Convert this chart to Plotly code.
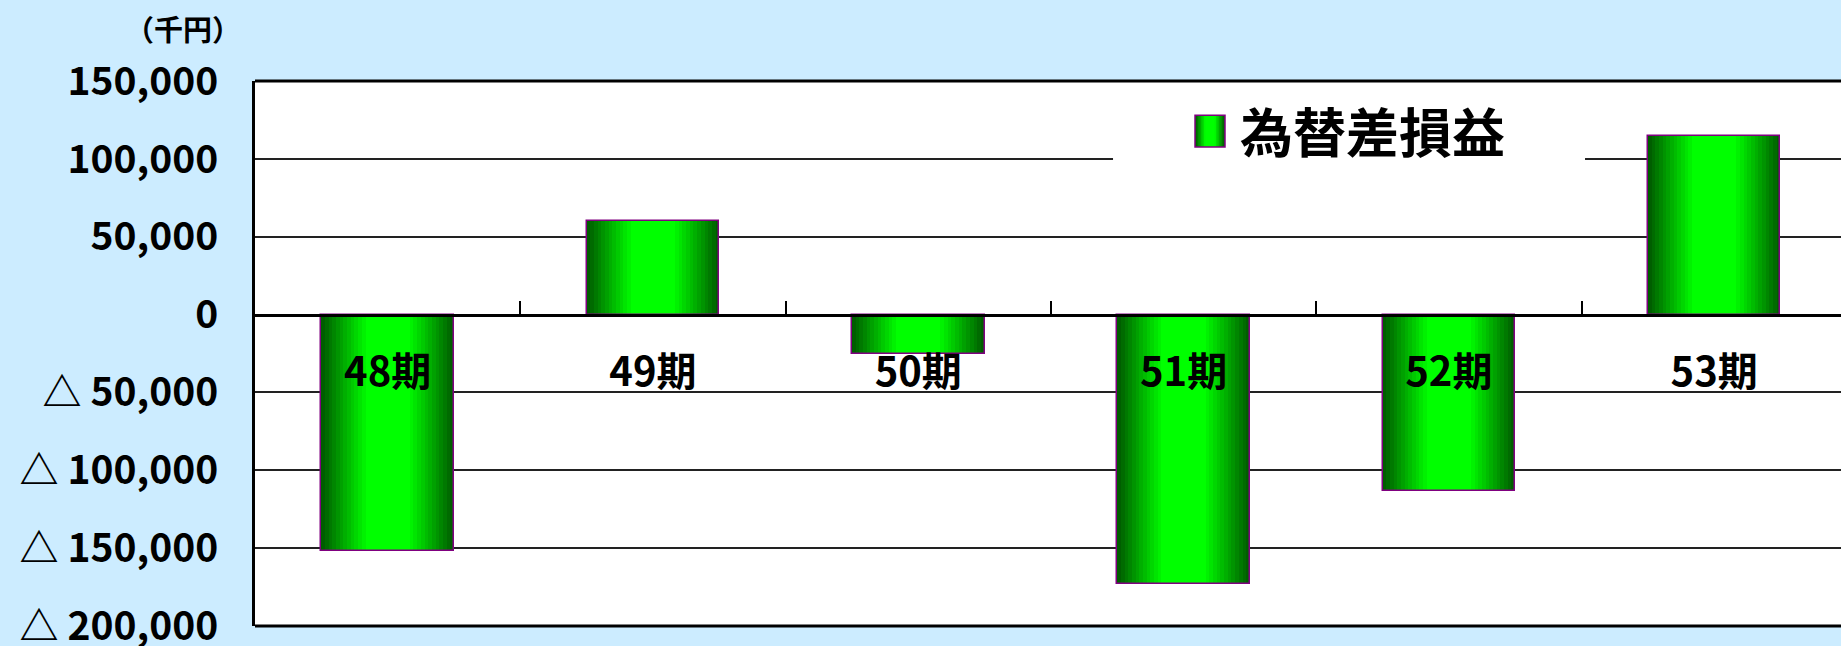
import plotly.graph_objects as go

# ---------------- data ----------------
categories = ["48期", "49期", "50期", "51期", "52期", "53期"]
values = [-152000, 60000, -25000, -173000, -113000, 115000]
series_name = "為替差損益"
y_tickvals = [150000, 100000, 50000, 0, -50000, -100000, -150000, -200000]
y_ticktext = ["150,000", "100,000", "50,000", "0",
              "△ 50,000", "△ 100,000", "△ 150,000", "△ 200,000"]
unit_label = "（千円）"

# ---------------- style ----------------
FONT = "Noto Sans CJK JP"
PAPER_BG = "#CCECFF"
OUTLINE = "#800080"
N_LAYERS = 18
BAR_WIDTH = 0.5


def layer_color(i, n):
    t = min(1.0, (i / (n - 1)) / 0.7)
    g = int(0x5E + (0xFF - 0x5E) * t)
    return f"rgb(0,{g},0)"


fig = go.Figure()

# gradient bars: nested overlay layers, dark edges -> bright centre
for i in range(N_LAYERS):
    fig.add_trace(go.Bar(
        x=categories, y=values,
        width=BAR_WIDTH * (1 - i / N_LAYERS),
        marker=dict(color=layer_color(i, N_LAYERS), line=dict(width=0)),
        showlegend=False, hoverinfo="skip",
    ))
# outline layer
fig.add_trace(go.Bar(
    x=categories, y=values, width=BAR_WIDTH, name=series_name,
    marker=dict(color="rgba(0,0,0,0)", line=dict(color=OUTLINE, width=1.5)),
    showlegend=False,
))

W, H = 1841, 646
ML, MT, MB, MR = 255, 81, 20, 0
plot_w = W - ML - MR
cat_px = 265.3
x_max = -0.5 + plot_w / cat_px

fig.update_layout(
    width=W, height=H,
    margin=dict(l=ML, r=MR, t=MT, b=MB, autoexpand=False),
    paper_bgcolor=PAPER_BG, plot_bgcolor="white",
    barmode="overlay", bargap=0,
    font=dict(family=FONT, color="black", size=40, weight="bold"),
    showlegend=False,
)

fig.update_xaxes(
    type="category", range=[-0.5, x_max], automargin=False,
    anchor="free", position=200000 / 350000,
    showline=True, linecolor="black", linewidth=3,
    ticks="inside", tickson="boundaries", ticklen=13, tickwidth=2, tickcolor="black",
    showgrid=False,
    tickfont=dict(family=FONT, size=40, weight="bold"),
    ticklabelstandoff=21,
)

fig.update_yaxes(
    range=[-200000, 150000], automargin=False,
    tickvals=y_tickvals, ticktext=y_ticktext,
    showgrid=True, gridcolor="#222222", gridwidth=1.5,
    zeroline=False,
    showline=True, linecolor="black", linewidth=3,
    ticks="", ticklabelstandoff=26, ticklabeloverflow="allow",
    tickfont=dict(family=FONT, size=39, weight="bold"),
)

shapes = []
# top and bottom borders of the plot area
for yy in (0, 1):
    shapes.append(dict(type="line", xref="paper", yref="paper", x0=0, x1=1, y0=yy, y1=yy,
                       line=dict(color="black", width=3), layer="above"))

# legend box
LX0, LX1, LY0, LY1 = 0.541, 0.8386, 0.84, 0.98
shapes.append(dict(type="rect", xref="paper", yref="paper", x0=LX0, x1=LX1, y0=LY0, y1=LY1,
                   fillcolor="white", line=dict(width=0), layer="above"))
# legend swatch with gradient
SX0, SX1, SY0, SY1 = 0.5927, 0.6116, 0.879, 0.937
n_sw = 10
for i in range(n_sw):
    half = (SX1 - SX0) / 2 * (1 - i / n_sw)
    cx = (SX0 + SX1) / 2
    shapes.append(dict(type="rect", xref="paper", yref="paper", x0=cx - half, x1=cx + half,
                       y0=SY0, y1=SY1, fillcolor=layer_color(i, n_sw), line=dict(width=0),
                       layer="above"))
shapes.append(dict(type="rect", xref="paper", yref="paper", x0=SX0, x1=SX1, y0=SY0, y1=SY1,
                   fillcolor="rgba(0,0,0,0)", line=dict(color=OUTLINE, width=1.5), layer="above"))
fig.update_layout(shapes=shapes)

fig.add_annotation(text=series_name, xref="paper", yref="paper", x=0.6200, y=0.910,
                   xanchor="left", yanchor="middle", showarrow=False,
                   font=dict(family=FONT, size=53, weight="bold", color="black"))
fig.add_annotation(text=unit_label, xref="paper", yref="paper", x=-0.0454, y=1.097,
                   xanchor="center", yanchor="middle", showarrow=False,
                   font=dict(family=FONT, size=29, weight="bold", color="black"))

fig.write_html("out.html", config={"displayModeBar": False},
               post_script="document.body.style.margin='0px';")
